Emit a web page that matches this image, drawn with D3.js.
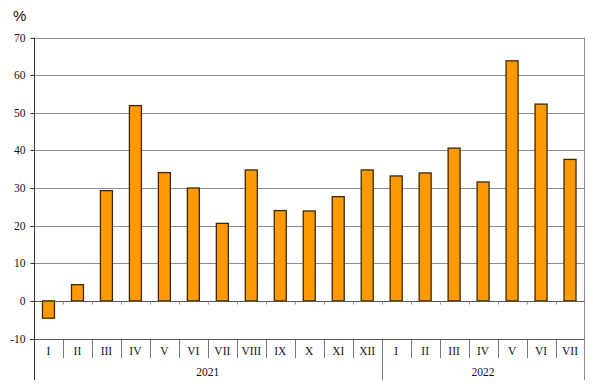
<!DOCTYPE html>
<html>
<head>
<meta charset="utf-8">
<script src="https://cdn.jsdelivr.net/npm/d3@7"></script>
<style>
  body { margin: 0; background: #fff; }
  svg { display: block; }
</style>
</head>
<body>
<div id="app"></div>
<script>
const months = ['I', 'II', 'III', 'IV', 'V', 'VI', 'VII', 'VIII', 'IX', 'X', 'XI', 'XII',
	'I', 'II', 'III', 'IV', 'V', 'VI', 'VII'];
const years = ['2021', '2022'];
const yearSpan = [12, 7];
const values = [-4.6, 4.3, 29.3, 51.9, 34.1, 30.0, 20.6, 34.8, 24.0, 23.9, 27.7, 34.8,
	33.2, 34.0, 40.6, 31.6, 63.8, 52.3, 37.6];
const yTicks = [-10, 0, 10, 20, 30, 40, 50, 60, 70];

const width = 593;
const height = 390;
const plotLeft = 34;
const plotRight = 584.5;
const plotTop = 37.5;
const plotBottom = 338.5;

const svg = d3.select('#app').append('svg')
	.attr('width', width)
	.attr('height', height);

const ids = months.map((m, i) => i);
const x = d3.scaleBand().domain(ids).range([plotLeft, plotRight]).paddingInner(0).paddingOuter(0);
const y = d3.scaleLinear().domain([-10, 70]).range([plotBottom, plotTop]);

// grid lines
svg.append('g')
	.selectAll('line')
	.data(yTicks.filter((d) => d !== 0 && d !== -10))
	.enter()
	.append('line')
	.attr('x1', plotLeft)
	.attr('x2', plotRight)
	.attr('y1', (d) => Math.round(y(d)) + 0.5)
	.attr('y2', (d) => Math.round(y(d)) + 0.5)
	.attr('stroke', '#8c8c8c')
	.attr('stroke-width', 1);

// right border
svg.append('line')
	.attr('x1', plotRight).attr('x2', plotRight)
	.attr('y1', plotTop).attr('y2', 380)
	.attr('stroke', '#8c8c8c');

// bars
const barW = 12;
svg.append('g')
	.selectAll('rect')
	.data(values)
	.enter()
	.append('rect')
	.attr('x', (d, i) => x(i) + x.bandwidth() / 2 - barW / 2)
	.attr('width', barW)
	.attr('y', (d) => y(Math.max(0, d)))
	.attr('height', (d) => Math.abs(y(d) - y(0)))
	.attr('fill', '#ff9900')
	.attr('stroke', '#3d2800')
	.attr('stroke-width', 1.3);

// zero line with small ticks
const zy = Math.round(y(0)) + 0.5;
svg.append('line')
	.attr('x1', plotLeft).attr('x2', plotRight)
	.attr('y1', zy).attr('y2', zy)
	.attr('stroke', '#555')
	.attr('stroke-width', 1);
svg.append('g')
	.selectAll('line')
	.data(ids.slice(1))
	.enter()
	.append('line')
	.attr('x1', (d) => Math.round(x(d)) + 0.5)
	.attr('x2', (d) => Math.round(x(d)) + 0.5)
	.attr('y1', zy)
	.attr('y2', zy + 3)
	.attr('stroke', '#999');

// bottom axis line (-10)
const by = Math.round(y(-10)) + 0.5;
svg.append('line')
	.attr('x1', plotLeft - 4).attr('x2', plotRight)
	.attr('y1', by).attr('y2', by)
	.attr('stroke', '#555');

// month separators
svg.append('g')
	.selectAll('line')
	.data(ids.slice(1))
	.enter()
	.append('line')
	.attr('x1', (d) => Math.round(x(d)) + 0.5)
	.attr('x2', (d) => Math.round(x(d)) + 0.5)
	.attr('y1', by)
	.attr('y2', (d) => d === yearSpan[0] ? 380 : 358)
	.attr('stroke', '#777');

// month labels
svg.append('g')
	.selectAll('text')
	.data(months)
	.enter()
	.append('text')
	.attr('x', (d, i) => x(i) + x.bandwidth() / 2)
	.attr('y', 355)
	.attr('text-anchor', 'middle')
	.attr('font-family', 'Liberation Serif, serif')
	.attr('font-size', 11.5)
	.attr('fill', '#111')
	.text((d) => d);

// year labels
let start = 0;
years.forEach((yr, k) => {
	const x0 = x(start);
	const x1 = start + yearSpan[k] < months.length ? x(start + yearSpan[k]) : plotRight;
	svg.append('text')
		.attr('x', (x0 + x1) / 2)
		.attr('y', 376)
		.attr('text-anchor', 'middle')
		.attr('font-family', 'Liberation Serif, serif')
		.attr('font-size', 11.5)
		.attr('fill', '#111')
		.text(yr);
	start += yearSpan[k];
});

// y axis
const yAxis = d3.axisLeft(y).tickValues(yTicks).tickSize(4).tickPadding(5).tickFormat((d) => String(d));
const ga = svg.append('g')
	.attr('transform', `translate(${plotLeft + 0.5},0)`)
	.call(yAxis);
ga.select('.domain').remove();
ga.selectAll('.tick line').attr('stroke', '#333');
ga.selectAll('.tick text')
	.attr('font-family', 'Liberation Serif, serif')
	.attr('font-size', 11.5)
	.attr('fill', '#111');
ga.selectAll('.tick').attr('transform', (d) => `translate(0,${Math.round(y(d)) + 0.5})`);
svg.append('line')
	.attr('x1', plotLeft + 0.5).attr('x2', plotLeft + 0.5)
	.attr('y1', plotTop).attr('y2', 380)
	.attr('stroke', '#333');

svg.append('text')
	.attr('x', 13)
	.attr('y', 21)
	.attr('font-family', 'Liberation Sans, Arial, sans-serif')
	.attr('font-size', 15)
	.attr('fill', '#111')
	.text('%');
</script>
</body>
</html>
